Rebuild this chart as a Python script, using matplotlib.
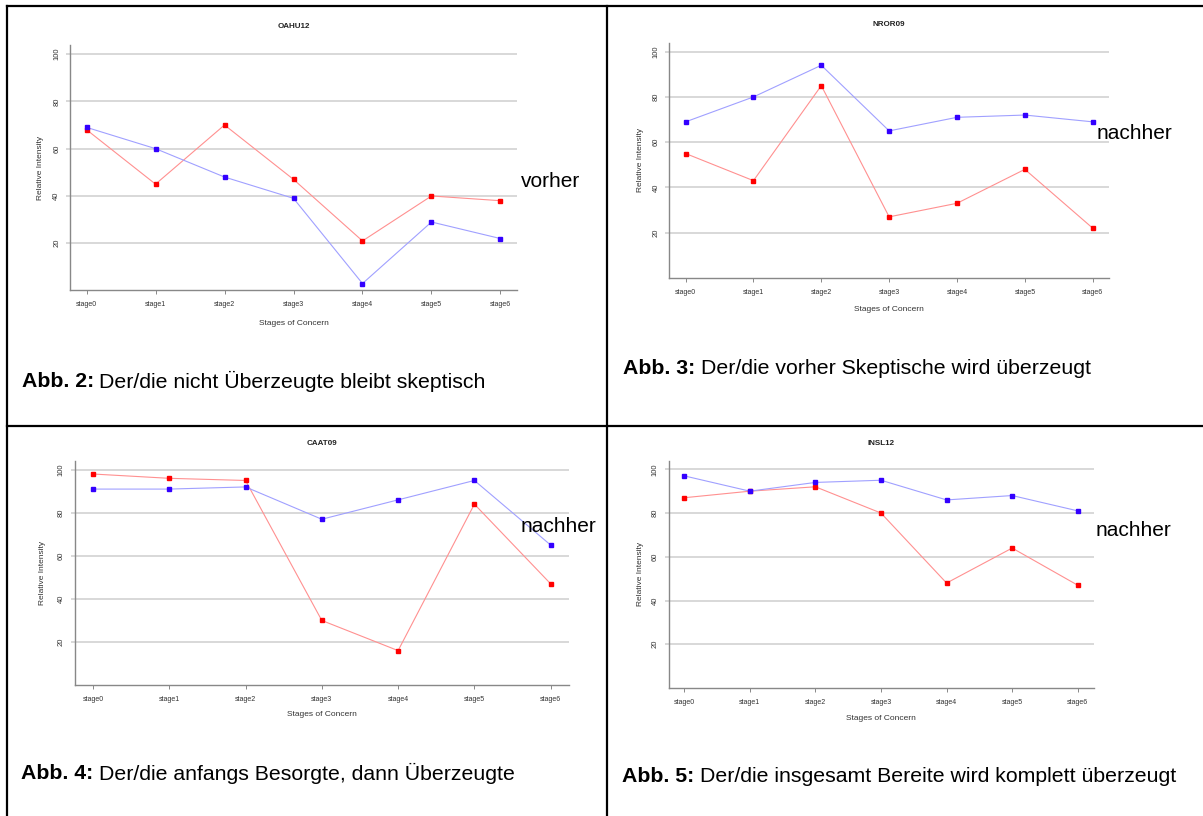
import numpy as np
import matplotlib
matplotlib.use('Agg')
import matplotlib.pyplot as plt
from matplotlib.lines import Line2D

plt.rcParams['font.family'] = ['Liberation Sans', 'DejaVu Sans']

W, H = 1203, 816

stages = ['stage0', 'stage1', 'stage2', 'stage3', 'stage4', 'stage5', 'stage6']
yticks = [20, 40, 60, 80, 100]

# red = vorher, blue = nachher
oahu12_red = [68, 45, 70, 47, 21, 40, 38]
oahu12_blue = [69, 60, 48, 39, 3, 29, 22]
nror09_red = [55, 43, 85, 27, 33, 48, 22]
nror09_blue = [69, 80, 94, 65, 71, 72, 69]
caat09_red = [98, 96, 95, 30, 16, 84, 47]
caat09_blue = [91, 91, 92, 77, 86, 95, 65]
insl12_red = [87, 90, 92, 80, 48, 64, 47]
insl12_blue = [97, 90, 94, 95, 86, 88, 81]

titles = ['OAHU12', 'NROR09', 'CAAT09', 'INSL12']
captions_bold = ['Abb. 2:', 'Abb. 3:', 'Abb. 4:', 'Abb. 5:']
captions = ['Der/die nicht Überzeugte bleibt skeptisch',
            'Der/die vorher Skeptische wird überzeugt',
            'Der/die anfangs Besorgte, dann Überzeugte',
            'Der/die insgesamt Bereite wird komplett überzeugt']
side_labels = ['vorher', 'nachher', 'nachher', 'nachher']

reds = [oahu12_red, nror09_red, caat09_red, insl12_red]
blues = [oahu12_blue, nror09_blue, caat09_blue, insl12_blue]

# layout in pixels: left spine, right end, y of 100 grid, y of 20 grid
layout = [
    dict(L=70, R=517, y100=54, y20=243.3, title_y=26, xlab_y=323.3, ylab_x=40,
         cap=(21.7, 381.7), side=(520.5, 181.7)),
    dict(L=669.3, R=1109, y100=51.7, y20=232.7, title_y=25, xlab_y=309.3, ylab_x=640,
         cap=(623, 368.3), side=(1096.7, 133.3)),
    dict(L=74.6, R=569, y100=469.7, y20=642, title_y=444, xlab_y=715, ylab_x=42,
         cap=(21, 773.3), side=(520.5, 526)),
    dict(L=668.5, R=1093.5, y100=469.3, y20=644.3, title_y=443.3, xlab_y=719, ylab_x=640,
         cap=(622.3, 777), side=(1096, 531)),
]

ylo, yhi = 0.16, 103.84

fig = plt.figure(figsize=(W / 100, H / 100), dpi=100)


def fx(x):
    return x / W


def fy(y):
    return 1 - y / H


for i, p in enumerate(layout):
    ppu = (p['y20'] - p['y100']) / 80.0
    ybot = p['y100'] + (100 - ylo) * ppu
    ytop = p['y100'] - (yhi - 100) * ppu
    ax = fig.add_axes([fx(p['L']), fy(ybot), (p['R'] - p['L']) / W, (ybot - ytop) / H])
    x = np.arange(len(stages))
    ax.plot(x, reds[i], color='#ff9090', lw=0.8, zorder=3)
    ax.plot(x, reds[i], 's', color='#ff0000', ms=3, mec='#ff0000', zorder=4)
    ax.plot(x, blues[i], color='#a0a0ff', lw=0.8, zorder=3)
    ax.plot(x, blues[i], 's', color='#3300ff', ms=3, mec='#3300ff', zorder=4)
    ax.set_xlim(-0.24, 6.24)
    ax.set_ylim(ylo, yhi)
    ax.set_xticks(x)
    ax.set_xticklabels(stages, fontsize=5, color='#333333')
    ax.set_yticks(yticks)
    ax.set_yticklabels([str(v) for v in yticks], fontsize=5.5, color='#333333',
                       rotation=90, va='center')
    ax.yaxis.grid(True, color='#d8d8d8', lw=1.4)
    ax.set_axisbelow(True)
    ax.tick_params(axis='x', length=3, width=0.7, color='#888888', pad=5)
    ax.tick_params(axis='y', length=3, width=1.4, color='#d8d8d8', pad=4)
    for s in ['top', 'right']:
        ax.spines[s].set_visible(False)
    for s in ['left', 'bottom']:
        ax.spines[s].set_color('#888888')
        ax.spines[s].set_linewidth(1.0)
    cx = (p['L'] + p['R']) / 2
    fig.text(fx(cx), fy(p['title_y']), titles[i], fontsize=5.8, weight='bold',
             ha='center', va='center', color='#222222')
    fig.text(fx(cx), fy(p['xlab_y']), 'Stages of Concern', fontsize=6,
             ha='center', va='center', color='#333333')
    fig.text(fx(p['ylab_x']), fy((ytop + ybot) / 2), 'Relative Intensity', fontsize=6,
             ha='center', va='center', rotation=90, color='#333333')
    fig.text(fx(p['side'][0]), fy(p['side'][1]), side_labels[i], fontsize=15,
             ha='left', va='center', color='black')

# captions: bold prefix then regular text
fig.canvas.draw()
renderer = fig.canvas.get_renderer()
for i, p in enumerate(layout):
    t = fig.text(fx(p['cap'][0]), fy(p['cap'][1]), captions_bold[i], fontsize=15.3,
                 weight='bold', ha='left', va='center')
    bb = t.get_window_extent(renderer=renderer)
    fig.text(fx(bb.x1 + 5.5), fy(p['cap'][1]), captions[i], fontsize=15.3,
             ha='left', va='center')

# table borders
lw = 1.6
fig.add_artist(Line2D([fx(7), fx(W)], [fy(6), fy(6)], color='black', lw=lw))
fig.add_artist(Line2D([fx(7), fx(W)], [fy(426), fy(426)], color='black', lw=lw))
fig.add_artist(Line2D([fx(7), fx(7)], [fy(6), fy(H)], color='black', lw=lw))
fig.add_artist(Line2D([fx(607), fx(607)], [fy(6), fy(H)], color='black', lw=lw))

fig.savefig('out.png', dpi=100)
